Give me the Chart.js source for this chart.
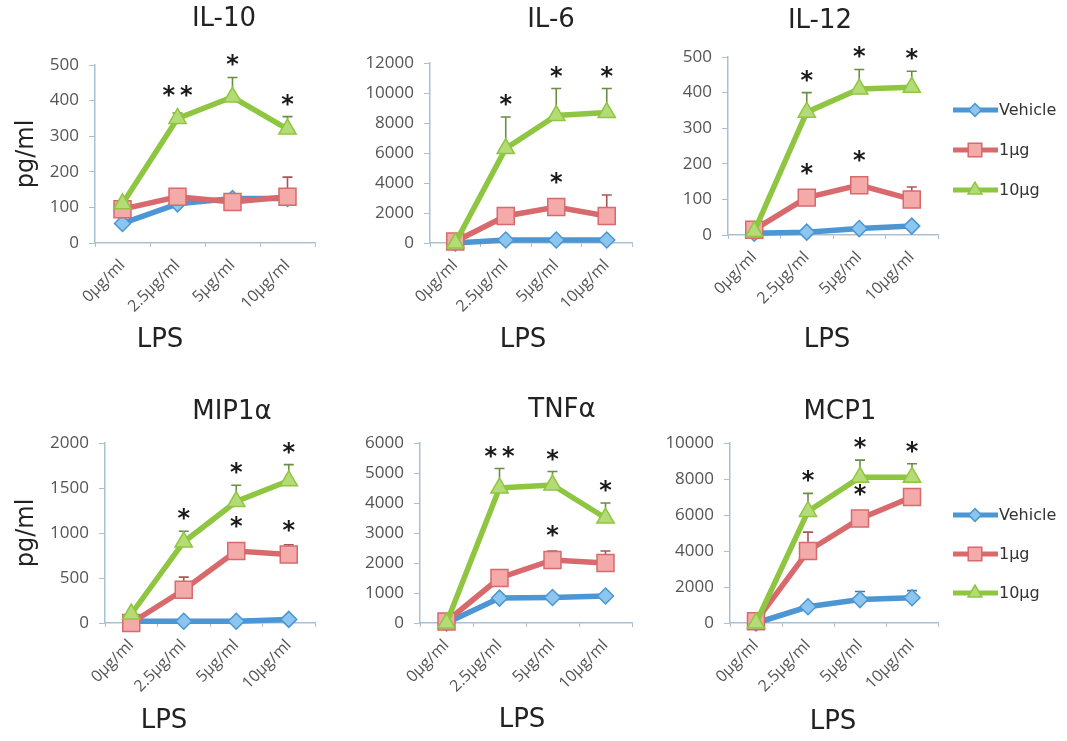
<!DOCTYPE html>
<html>
<head>
<meta charset="utf-8">
<script src="https://cdn.jsdelivr.net/npm/chart.js@4.4.1/dist/chart.umd.min.js"></script>
<style>
  body { margin: 0; background: #fff; }
  #page { position: relative; width: 1067px; height: 741px; overflow: hidden; background: #fff; }
  #page canvas { position: absolute; }
</style>
</head>
<body>
<div id="page"></div>
<script>
// categories (LPS dose) and treatment groups
const doses = ['0μg/ml', '2.5μg/ml', '5μg/ml', '10μg/ml'];
const groups = ['Vehicle', '1μg', '10μg'];

const noSd = [0, 0, 0, 0];
const noSig = ['', '', '', ''];

// IL-10
const il10Vehicle = [55, 110, 125, 125];
const il10Low = [95, 130, 115, 130];
const il10High = [110, 350, 410, 320];
const il10LowSd = [0, 0, 0, 55];
const il10HighSd = [0, 15, 55, 35];
const il10HighSig = ['', '**', '*', '*'];

// IL-6
const il6Vehicle = [0, 200, 200, 200];
const il6Low = [100, 1800, 2400, 1800];
const il6High = [0, 6300, 8500, 8700];
const il6LowSd = [0, 0, 400, 1400];
const il6HighSd = [0, 2100, 1800, 1600];
const il6LowSig = ['', '', '*', ''];
const il6HighSig = ['', '*', '*', '*'];

// IL-12
const il12Vehicle = [5, 8, 18, 25];
const il12Low = [15, 105, 140, 100];
const il12High = [10, 345, 410, 415];
const il12LowSd = [0, 0, 0, 35];
const il12HighSd = [0, 55, 55, 45];
const il12LowSig = ['', '*', '*', ''];
const il12HighSig = ['', '*', '*', '*'];

// MIP1a
const mipVehicle = [20, 20, 20, 40];
const mipLow = [0, 370, 800, 760];
const mipHigh = [100, 900, 1350, 1580];
const mipLowSd = [0, 140, 0, 110];
const mipHighSd = [0, 120, 180, 180];
const mipLowSig = ['', '', '*', '*'];
const mipHighSig = ['', '*', '*', '*'];

// TNFa
const tnfVehicle = [0, 830, 850, 900];
const tnfLow = [50, 1500, 2100, 2000];
const tnfHigh = [0, 4500, 4600, 3500];
const tnfLowSd = [0, 0, 300, 400];
const tnfHighSd = [0, 650, 450, 500];
const tnfLowSig = ['', '', '*', ''];
const tnfHighSig = ['', '**', '*', '*'];

// MCP1
const mcpVehicle = [0, 900, 1300, 1400];
const mcpLow = [100, 4000, 5800, 7000];
const mcpHigh = [0, 6200, 8100, 8100];
const mcpVehicleSd = [0, 0, 450, 400];
const mcpLowSd = [0, 1050, 0, 0];
const mcpHighSd = [0, 1000, 950, 750];
const mcpLowSig = ['', '', '*', ''];
const mcpHighSig = ['', '*', '*', '*'];

const seriesStyle = [
  { line: '#4b96d3', fill: '#8cc6ee', err: '#3f79a8', shape: 'rectRot', r: 8 },
  { line: '#d8696d', fill: '#f3aaa9', err: '#a95558', shape: 'rect', r: 12 },
  { line: '#8fc641', fill: '#b4dc76', err: '#6a8c44', shape: 'triangle', r: 10 }
];

const axisColor = '#a9bfd2';
const X_H = 80;

// box = canvas [left, top, width, height]; area = plot [left, right, top, bottom] (page px)
const panels = [
  { name: 'IL-10', vals: [il10Vehicle, il10Low, il10High], sd: [noSd, il10LowSd, il10HighSd],
    sig: [noSig, noSig, il10HighSig], max: 500, step: 100,
    box: [0, 0, 330, 370], area: [95, 315, 65, 243], titleAt: [224, 19], lpsAt: [160, 340], yTitle: true },
  { name: 'IL-6', vals: [il6Vehicle, il6Low, il6High], sd: [noSd, il6LowSd, il6HighSd],
    sig: [noSig, il6LowSig, il6HighSig], max: 12000, step: 2000,
    box: [330, 0, 320, 370], area: [430, 632, 63, 243], titleAt: [551, 20], lpsAt: [523, 340] },
  { name: 'IL-12', vals: [il12Vehicle, il12Low, il12High], sd: [noSd, il12LowSd, il12HighSd],
    sig: [noSig, il12LowSig, il12HighSig], max: 500, step: 100,
    box: [650, 0, 417, 370], area: [728, 938, 57, 235], titleAt: [820, 21], lpsAt: [827, 340],
    legendAt: [953, 110, 40] },
  { name: 'MIP1α', vals: [mipVehicle, mipLow, mipHigh], sd: [noSd, mipLowSd, mipHighSd],
    sig: [noSig, mipLowSig, mipHighSig], max: 2000, step: 500,
    box: [0, 375, 330, 366], area: [105, 315, 443, 623], titleAt: [232, 412], lpsAt: [164, 721], yTitle: true },
  { name: 'TNFα', vals: [tnfVehicle, tnfLow, tnfHigh], sd: [noSd, tnfLowSd, tnfHighSd],
    sig: [noSig, tnfLowSig, tnfHighSig], max: 6000, step: 1000,
    box: [330, 375, 320, 366], area: [420, 632, 443, 623], titleAt: [562, 410], lpsAt: [522, 720] },
  { name: 'MCP1', vals: [mcpVehicle, mcpLow, mcpHigh], sd: [mcpVehicleSd, mcpLowSd, mcpHighSd],
    sig: [noSig, mcpLowSig, mcpHighSig], max: 10000, step: 2000,
    box: [650, 375, 417, 366], area: [730, 938, 443, 623], titleAt: [840, 412], lpsAt: [833, 722],
    legendAt: [953, 515, 39] }
];

// error bars, stars, panel title, LPS label and legend
const decor = {
  id: 'decor',
  beforeDatasetsDraw(chart, args, o) {
    const ctx = chart.ctx;
    const y = chart.scales.y;
    chart.data.datasets.forEach((ds, i) => {
      const meta = chart.getDatasetMeta(i);
      meta.data.forEach((pt, j) => {
        const sd = ds.sd[j];
        if (!sd) return;
        const top = y.getPixelForValue(ds.data[j] + sd);
        ctx.save();
        ctx.strokeStyle = ds.errColor;
        ctx.lineWidth = 1.6;
        ctx.beginPath();
        ctx.moveTo(pt.x, pt.y);
        ctx.lineTo(pt.x, top);
        ctx.moveTo(pt.x - 5, top);
        ctx.lineTo(pt.x + 5, top);
        ctx.stroke();
        ctx.restore();
      });
    });
  },
  afterDraw(chart, args, o) {
    const ctx = chart.ctx;
    const y = chart.scales.y;
    const ox = o.origin[0], oy = o.origin[1];
    ctx.save();
    // significance stars
    ctx.fillStyle = '#1a1a1a';
    ctx.font = 'bold 24px "DejaVu Sans"';
    ctx.textAlign = 'center';
    ctx.textBaseline = 'alphabetic';
    const m = ctx.measureText('*');
    const shift = (m.actualBoundingBoxAscent - m.actualBoundingBoxDescent) / 2;
    chart.data.datasets.forEach((ds, i) => {
      const meta = chart.getDatasetMeta(i);
      meta.data.forEach((pt, j) => {
        const s = ds.sig[j];
        if (!s) return;
        const top = Math.min(y.getPixelForValue(ds.data[j] + ds.sd[j]), pt.y - ds.pointRadius);
        ctx.fillText(s.split('').join('\u2009'), pt.x, top - 17 + shift);
      });
    });
    // titles
    ctx.textBaseline = 'middle';
    ctx.fillStyle = '#222';
    ctx.font = '26px "DejaVu Sans"';
    ctx.fillText(o.title, o.titleAt[0] - ox, o.titleAt[1] - oy);
    ctx.font = '26px "DejaVu Sans"';
    ctx.fillText('LPS', o.lpsAt[0] - ox, o.lpsAt[1] - oy);
    // legend
    if (o.legendAt) {
      const [lx, ly, gap] = o.legendAt;
      chart.data.datasets.forEach((ds, i) => {
        const cx = lx - ox, cy = ly - oy + i * gap;
        ctx.strokeStyle = ds.borderColor;
        ctx.lineWidth = 5;
        ctx.beginPath();
        ctx.moveTo(cx, cy);
        ctx.lineTo(cx + 45, cy);
        ctx.stroke();
        ctx.fillStyle = ds.pointBackgroundColor;
        ctx.strokeStyle = ds.pointBorderColor;
        ctx.lineWidth = 1.5;
        Chart.helpers.drawPoint(ctx, { pointStyle: ds.pointStyle, radius: ds.pointRadius * 0.8, borderWidth: 1.5, rotation: 0 }, cx + 22, cy);
        ctx.fillStyle = '#333';
        ctx.font = '16px "DejaVu Sans"';
        ctx.textAlign = 'left';
        ctx.fillText(ds.label, cx + 46, cy + 1);
      });
    }
    ctx.restore();
  }
};

const page = document.getElementById('page');

panels.forEach(p => {
  const [bx, by, bw, bh] = p.box;
  const [al, ar, at, ab] = p.area;
  const canvas = document.createElement('canvas');
  canvas.width = bw;
  canvas.height = bh;
  canvas.style.left = bx + 'px';
  canvas.style.top = by + 'px';
  page.appendChild(canvas);

  const datasets = groups.map((g, i) => {
    const st = seriesStyle[i];
    return {
      label: g,
      data: p.vals[i],
      sd: p.sd[i],
      sig: p.sig[i],
      errColor: st.err,
      borderColor: st.line,
      backgroundColor: st.fill,
      borderWidth: 5.5,
      pointStyle: st.shape,
      pointRadius: st.r,
      pointBackgroundColor: st.fill,
      pointBorderColor: st.line,
      pointBorderWidth: 1.5,
      tension: 0,
      clip: false,
      order: 2 - i
    };
  });

  new Chart(canvas, {
    type: 'line',
    data: { labels: doses, datasets: datasets },
    options: {
      responsive: false,
      animation: false,
      devicePixelRatio: 1,
      layout: { padding: { left: 0, top: at - by, right: bx + bw - ar, bottom: by + bh - ab - X_H } },
      plugins: {
        legend: { display: false },
        tooltip: { enabled: false },
        decor: { origin: [bx, by], title: p.name, titleAt: p.titleAt, lpsAt: p.lpsAt, legendAt: p.legendAt }
      },
      scales: {
        x: {
          offset: true,
          grid: { offset: true, drawOnChartArea: false, color: axisColor, tickLength: 4 },
          border: { color: axisColor, width: 1.5 },
          ticks: { autoSkip: false, minRotation: 45, maxRotation: 45, padding: 9, color: '#555',
                   font: { family: 'Open Sans', size: 16 } },
          afterFit: s => { s.height = X_H; }
        },
        y: {
          min: 0,
          max: p.max,
          grid: { drawOnChartArea: false, color: axisColor, tickLength: 6 },
          border: { color: axisColor, width: 1.5 },
          ticks: { stepSize: p.step, padding: 10, color: '#555', font: { family: 'Open Sans', size: 17 },
                   callback: v => String(v) },
          title: { display: !!p.yTitle, text: 'pg/ml', color: '#222', padding: { top: 12 },
                   font: { family: 'DejaVu Sans', size: 24 } },
          afterFit: s => { s.width = al - bx; }
        }
      }
    },
    plugins: [decor]
  });
});
</script>
</body>
</html>
